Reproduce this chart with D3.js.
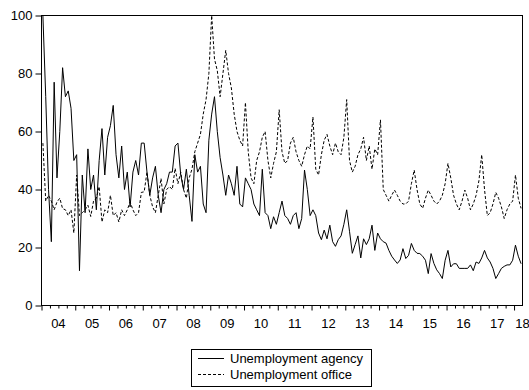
<!DOCTYPE html>
<html>
<head>
<meta charset="utf-8">
<script src="https://cdn.jsdelivr.net/npm/d3@7/dist/d3.min.js"></script>
<style>
  html, body { margin: 0; padding: 0; background: #fff; }
  svg { display: block; }
  text { font-family: "Liberation Sans", Arial, sans-serif; font-size: 13px; fill: #000; }
</style>
</head>
<body>
<svg id="chart" width="529" height="390"></svg>
<script>
// Monthly series, 2004M01 .. 2018M03
const startYear = 2004;
const endYear = 2018.25;
const yearLabels = ["04","05","06","07","08","09","10","11","12","13","14","15","16","17","18"];
const yTicks = [0, 20, 40, 60, 80, 100];
const seriesNames = ["Unemployment agency", "Unemployment office"];

const agency = [
  100, 72, 40, 22, 77, 44, 60, 82, 72, 74, 68, 50,
  52, 12, 45, 32, 54, 40, 45, 33, 50, 61, 45, 58,
  62, 69, 52, 44, 55, 40, 46, 34, 46, 50, 45, 56,
  56, 46, 38, 44, 48, 38, 32, 40, 42, 46, 46, 55,
  56, 45, 40, 47, 38, 29, 52, 46, 48, 35, 32, 57,
  66, 72, 60, 51, 45, 38, 45, 42, 38, 48, 35, 34,
  44, 42, 40, 35, 33, 31, 47, 32, 31, 26.5, 30.6, 28,
  32, 36, 31, 30, 28, 31, 32, 26.5, 30, 46.7, 40, 31,
  33, 31, 25, 22.7, 26, 23, 27.7, 22, 20.4, 22.7, 24, 28,
  33, 25.6, 18, 21, 24, 16.4, 23, 21, 23, 27.7, 19, 25,
  23, 22, 21.5, 19, 17, 15.7, 14.5, 15.7, 19.6, 16.2, 17.3, 21.4,
  19, 18, 17.9, 17, 15.6, 11, 17.9, 14.5, 12.3, 11, 9.3, 15.6,
  19, 13.3, 14.4, 14.4, 12.8, 12.8, 12.8, 12.8, 14, 12, 15, 14.5,
  16.4, 19, 16.4, 15, 12.8, 9.3, 11, 12.8, 13.5, 14, 14, 15.6,
  20.8, 17, 14.4
];

const office = [
  56, 36, 38, 36, 33, 35.7, 37, 33.4, 33, 31, 33, 25,
  45, 31, 32, 33, 34.6, 30.7, 36, 37, 41, 28.8, 33, 32,
  38, 31, 32, 28.8, 33, 31, 33, 35.7, 33, 31, 32, 39,
  39.2, 46, 38, 34, 32, 38, 43.8, 35, 40, 41, 40, 47.3,
  42, 46, 40, 37, 44, 47, 53, 56, 59, 66, 71, 80,
  100, 85, 81, 72, 80, 88, 80, 75, 66, 60, 57, 55,
  70, 53, 44, 42, 50, 53, 58, 60, 50, 44, 49, 53,
  67.5, 53, 49, 50, 56, 58, 53, 50, 48, 52, 55, 54,
  65, 47, 45, 52, 57, 59, 55, 52, 56, 53, 52, 58,
  71, 50, 46, 48, 52, 54, 58, 50, 55, 47, 54, 52,
  64, 40, 38, 36, 38, 39.8, 38, 36, 35, 35, 36, 42,
  46.7, 40, 35, 33.5, 37, 39.8, 38, 36, 35, 36, 38, 42,
  49, 44, 38, 35, 33, 36, 39.8, 37, 33, 35, 38, 43,
  52, 40, 31, 32, 35, 39, 37, 34, 30, 33, 35, 36,
  45, 37, 33.5
];

const svg = d3.select("#chart");
const plotL = 41.5, plotR = 522.5, plotT = 15.5, plotB = 305.5;

const x = d3.scaleLinear().domain([startYear, endYear]).range([plotL, plotR]);
const y = d3.scaleLinear().domain([0, 100]).range([plotB, plotT]);

// observation i sits in the middle of its monthly slot
const t = i => startYear + (i + 0.5) / 12;

svg.append("clipPath").attr("id", "plotclip")
  .append("rect").attr("x", plotL).attr("y", plotT - 1)
  .attr("width", plotR - plotL).attr("height", plotB - plotT + 1);

const line = d3.line().x((d, i) => x(t(i))).y(d => y(d));

const plot = svg.append("g").attr("clip-path", "url(#plotclip)");
plot.append("path").datum(office)
  .attr("d", line).attr("fill", "none").attr("stroke", "#000")
  .attr("stroke-width", 1).attr("stroke-dasharray", "3,2");
plot.append("path").datum(agency)
  .attr("d", line).attr("fill", "none").attr("stroke", "#000")
  .attr("stroke-width", 1);

// frame
svg.append("rect").attr("x", plotL).attr("y", plotT)
  .attr("width", plotR - plotL).attr("height", plotB - plotT)
  .attr("fill", "none").attr("stroke", "#000").attr("stroke-width", 1);

// y axis
const yAxis = d3.axisLeft(y).tickValues(yTicks).tickSize(6).tickPadding(3);
const gy = svg.append("g").attr("transform", `translate(${plotL},0)`).call(yAxis);
gy.select(".domain").remove();
gy.selectAll("text").style("font-family", "'Liberation Sans', Arial, sans-serif")
  .style("font-size", "13px").attr("fill", "#000");

// x axis: quarterly minor ticks, yearly major ticks
const years = yearLabels.map((s, k) => startYear + k);
const quarters = [];
years.forEach(yr => { [0.25, 0.5, 0.75].forEach(q => { if (yr + q < endYear) quarters.push(yr + q); }); });

const gxMinor = svg.append("g").attr("transform", `translate(0,${plotB})`)
  .call(d3.axisBottom(x).tickValues(quarters).tickSize(3).tickFormat(""));
gxMinor.select(".domain").remove();
const gxMajor = svg.append("g").attr("transform", `translate(0,${plotB})`)
  .call(d3.axisBottom(x).tickValues(years).tickSize(5).tickFormat(""));
gxMajor.select(".domain").remove();

svg.append("g").selectAll("text").data(yearLabels).join("text")
  .attr("x", (d, k) => Math.min(x(years[k] + 0.5), plotR))
  .attr("y", plotB + 22.5)
  .attr("text-anchor", "middle")
  .text(d => d);

// legend
const lg = svg.append("g");
lg.append("rect").attr("x", 191.5).attr("y", 349.5).attr("width", 180).attr("height", 37)
  .attr("fill", "#fff").attr("stroke", "#000").attr("stroke-width", 1);
const rows = [{ name: seriesNames[0], dash: null }, { name: seriesNames[1], dash: "3,2" }];
rows.forEach((r, k) => {
  const yy = 358.5 + k * 16;
  lg.append("line").attr("x1", 198).attr("x2", 224).attr("y1", yy).attr("y2", yy)
    .attr("stroke", "#000").attr("stroke-width", 1)
    .attr("stroke-dasharray", r.dash);
  lg.append("text").attr("x", 230).attr("y", yy).attr("dy", "0.35em").text(r.name);
});
</script>
</body>
</html>
